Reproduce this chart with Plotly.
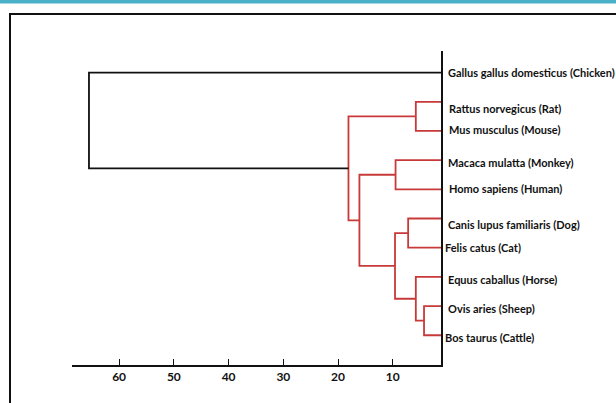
import plotly.graph_objects as go

# ---------------- data ----------------
leaf_labels = [
    "Gallus gallus domesticus (Chicken)",
    "Rattus norvegicus (Rat)",
    "Mus musculus (Mouse)",
    "Macaca mulatta (Monkey)",
    "Homo sapiens (Human)",
    "Canis lupus familiaris (Dog)",
    "Felis catus (Cat)",
    "Equus caballus (Horse)",
    "Ovis aries (Sheep)",
    "Bos taurus (Cattle)",
]
# merges: (child_a, child_b, height); leaves are 0..9, new clusters numbered from 10
merge_a = [8, 1, 7, 5, 3, 13, 14, 11, 0]
merge_b = [9, 2, 10, 6, 4, 12, 15, 16, 17]
merge_height = [4.3, 5.8, 5.8, 7.2, 9.5, 9.6, 16.1, 18.1, 65.5]
merge_color = ["red", "red", "red", "red", "red", "red", "red", "red", "black"]
x_tickvals = [60, 50, 40, 30, 20, 10]
x_ticktext = ["60", "50", "40", "30", "20", "10"]

# label fine offsets (pixels) as in the original image
label_yshift = [0, -7, 1, -2, 1, -6, 0, -3, -2, -2]
label_xshift = [6, 7, 7, 6, 7, 6, 3, 6, 6, 3]

# ---------------- build dendrogram ----------------
n = len(leaf_labels)
pos = {i: float(i) for i in range(n)}
hgt = {i: 0.0 for i in range(n)}
segs = {"red": ([], []), "black": ([], [])}
for k, (a, b, h, c) in enumerate(zip(merge_a, merge_b, merge_height, merge_color)):
    xs, ys = segs[c]
    xs += [hgt[a], h, h, hgt[b], None]
    ys += [pos[a], pos[a], pos[b], pos[b], None]
    node = n + k
    pos[node] = (pos[a] + pos[b]) / 2
    hgt[node] = h

colors = {"red": "#c83a3a", "black": "#111111"}
fig = go.Figure()
for c in ["red", "black"]:
    xs, ys = segs[c]
    fig.add_trace(go.Scatter(x=xs, y=ys, mode="lines",
                             line=dict(color=colors[c], width=1.8),
                             hoverinfo="skip", showlegend=False))

W, H = 616, 403
L, R, T, B = 72, 175, 51, 38
pw, ph = W - L - R, H - T - B

def px_x(px):
    return (px - L) / pw

def px_y(py):
    return 1 - (py - T) / ph

LABEL_FONT = "Lato, Roboto, sans-serif"
for i, lab in enumerate(leaf_labels):
    fig.add_annotation(x=1, xref="paper", y=i, yref="y", text=lab,
                       showarrow=False, xanchor="left", yanchor="middle",
                       xshift=label_xshift[i] - 1, yshift=label_yshift[i],
                       font=dict(family=LABEL_FONT, size=11, color="#111111", weight="bold"))

# outer frame and top bar
fig.add_shape(type="rect", xref="paper", yref="paper",
              x0=px_x(10), x1=px_x(700), y0=px_y(500), y1=px_y(14),
              line=dict(color="#111111", width=2), fillcolor="rgba(0,0,0,0)", layer="below")
fig.add_shape(type="rect", xref="paper", yref="paper",
              x0=px_x(-5), x1=px_x(700), y0=px_y(3.5), y1=px_y(-5),
              line=dict(width=0), fillcolor="#4bb1c9", layer="below")

fig.update_layout(
    width=W, height=H,
    margin=dict(l=L, r=R, t=T, b=B),
    paper_bgcolor="white", plot_bgcolor="white",
    xaxis=dict(range=[68.6, 1.2], tickvals=x_tickvals, ticktext=x_ticktext,
               ticks="inside", ticklen=6, tickwidth=1.2, tickcolor="#111111",
               showline=True, linecolor="#111111", linewidth=2,
               showgrid=False, zeroline=False,
               tickfont=dict(family=LABEL_FONT, size=12, color="#111111", weight="bold")),
    yaxis=dict(range=[10.02, -0.74], side="right", showline=True,
               linecolor="#111111", linewidth=2, showticklabels=False,
               ticks="", showgrid=False, zeroline=False),
)

fig.write_html("out.html", config={"displayModeBar": False},
               post_script="document.body.style.margin='0';")
